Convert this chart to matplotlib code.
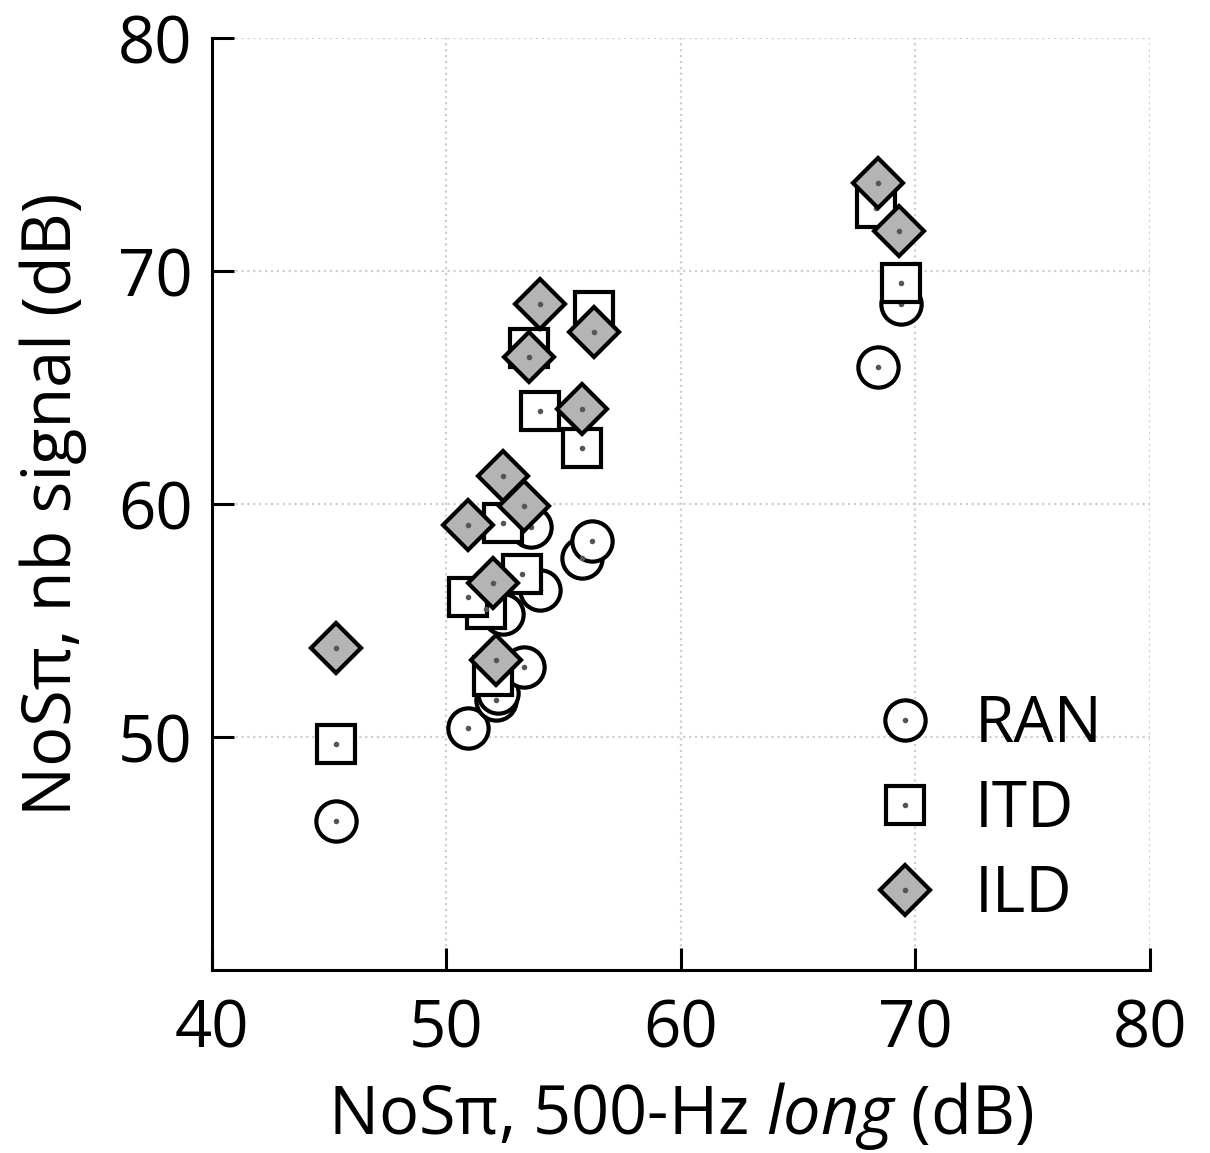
import matplotlib
matplotlib.use("Agg")
import matplotlib.pyplot as plt

plt.rcParams["font.family"] = ["Open Sans", "DejaVu Sans"]
plt.rcParams["mathtext.fontset"] = "custom"
plt.rcParams["mathtext.rm"] = "Open Sans"
plt.rcParams["mathtext.it"] = "Open Sans:italic"

# thresholds (dB)
ran_x = [45.3, 50.9, 52.1, 52.2, 53.3, 52.4, 54.0, 55.8, 56.2, 53.6, 68.4, 69.4]
ran_y = [46.4, 50.4, 51.6, 51.9, 53.0, 55.3, 56.3, 57.7, 58.4, 59.0, 65.9, 68.6]

itd_x = [45.3, 52.0, 51.7, 50.9, 53.2, 52.4, 55.8, 54.0, 53.5, 56.3, 69.4, 68.3]
itd_y = [49.7, 52.6, 55.5, 56.0, 57.0, 59.2, 62.4, 64.0, 66.7, 68.3, 69.5, 72.7]

ild_x = [45.3, 52.1, 52.0, 50.9, 53.3, 52.4, 55.8, 53.5, 56.3, 54.0, 69.3, 68.4]
ild_y = [53.8, 53.3, 56.6, 59.1, 59.9, 61.2, 64.1, 66.3, 67.4, 68.6, 71.7, 73.8]

series = [
    ("RAN", ran_x, ran_y, "o", "white", 29),
    ("ITD", itd_x, itd_y, "s", "white", 27.5),
    ("ILD", ild_x, ild_y, "D", "#b4b4b4", 25.5),
]

fig = plt.figure(figsize=(12.1, 11.53), dpi=100)
ax = fig.add_axes([0.1752, 0.1587, 0.7752, 0.8083])

handles = []
labels = []
for name, xs, ys, mk, fc, ms in series:
    h = ax.plot(xs, ys, linestyle="none", marker=mk, markersize=ms,
                markerfacecolor=fc, markeredgecolor="black",
                markeredgewidth=3.0, zorder=3)[0]
    d = ax.plot(xs, ys, linestyle="none", marker="o", markersize=4,
                markerfacecolor="#555555", markeredgewidth=0, zorder=3)[0]
    handles.append((h, d))
    labels.append(name)

ax.set_xlim(40, 80)
ax.set_ylim(40, 80)
ax.set_xticks([40, 50, 60, 70, 80])
ax.set_yticks([50, 60, 70, 80])

ax.spines["top"].set_visible(False)
ax.spines["right"].set_visible(False)
for s in ["left", "bottom"]:
    ax.spines[s].set_linewidth(2.2)

ax.tick_params(direction="in", length=16, width=2.2, labelsize=47, pad=14)
ax.tick_params(axis="x", pad=20)

ax.grid(True, linestyle=":", color="#cfcfcf", linewidth=1.6)
ax.set_axisbelow(True)

ax.set_xlabel(r"NoSπ, 500-Hz $\mathit{long}$ (dB)", fontsize=48, labelpad=12)
ax.set_ylabel("NoSπ, nb signal (dB)", fontsize=48, labelpad=22)

ax.legend(handles, labels, loc="lower right", frameon=False, fontsize=46,
          handlelength=1.0, handletextpad=0.6, labelspacing=0.33,
          borderaxespad=0, borderpad=0, bbox_to_anchor=(0.95, 0.046))

fig.savefig("out.png", dpi=100)
